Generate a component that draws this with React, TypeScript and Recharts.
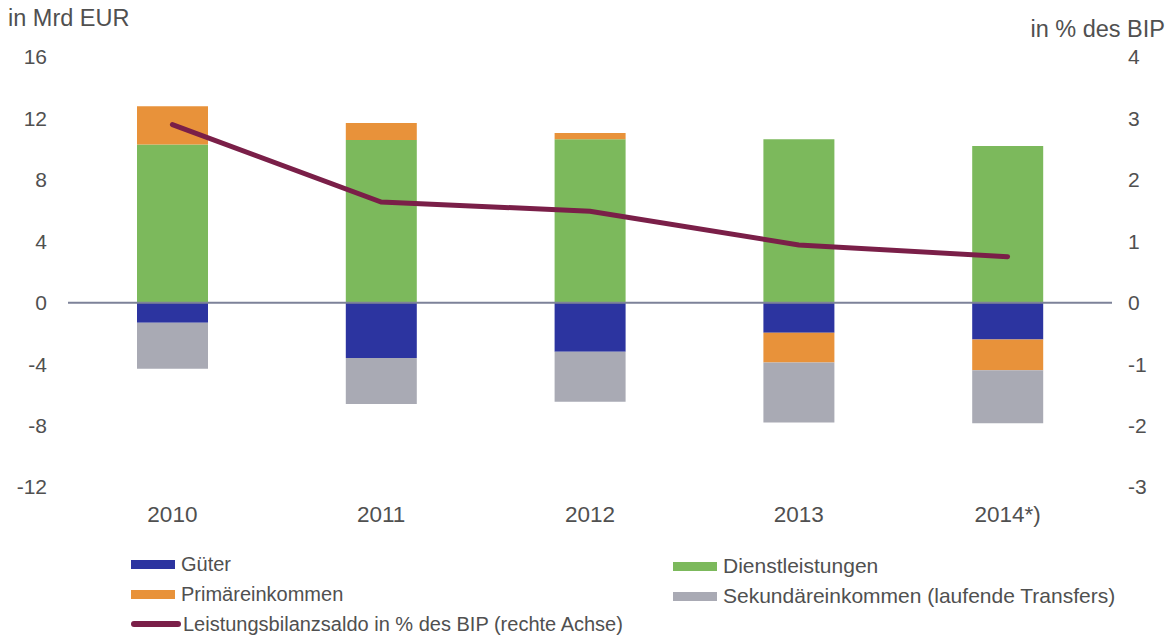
import {
  Bar,
  ComposedChart,
  Line,
  ReferenceLine,
  XAxis,
  YAxis,
} from "recharts";

const YEARS = ["2010", "2011", "2012", "2013", "2014*)"];
const GUETER = [-1.3, -3.6, -3.2, -1.95, -2.4];
const DIENSTLEISTUNGEN = [10.3, 10.6, 10.65, 10.65, 10.2];
const PRIMAER = [2.5, 1.1, 0.4, -1.95, -2.0];
const SEKUNDAER = [-3.0, -3.0, -3.25, -3.9, -3.45];
const SALDO = [2.9, 1.64, 1.49, 0.94, 0.75];

const LEFT_TICKS = [-12, -8, -4, 0, 4, 8, 12, 16];
const RIGHT_TICKS = [-3, -2, -1, 0, 1, 2, 3, 4];

const COLORS = {
  gueter: "#2c34a0",
  dienst: "#7cb95c",
  primaer: "#e8923a",
  sekundaer: "#a9aab4",
  saldo: "#7a1f48",
};

const data = YEARS.map((year, i) => ({
  year,
  gueter: GUETER[i],
  dienst: DIENSTLEISTUNGEN[i],
  primaer: PRIMAER[i],
  sekundaer: SEKUNDAER[i],
  saldo: SALDO[i],
}));

const FONT = "'Liberation Sans', Arial, sans-serif";
const TEXT = "#505050";
const tick = { fontSize: 21, fill: TEXT, fontFamily: FONT };
const xTick = { fontSize: 22.5, fill: TEXT, fontFamily: FONT };

function LegendItem({
  color,
  label,
  line,
}: {
  color: string;
  label: string;
  line?: boolean;
}) {
  return (
    <div style={{ display: "flex", alignItems: "center", height: 30 }}>
      <span
        style={{
          display: "inline-block",
          width: line ? 50 : 44,
          height: line ? 6 : 9,
          borderRadius: line ? 3 : 0,
          background: color,
          marginRight: line ? 2 : 6,
        }}
      />
      <span>{label}</span>
    </div>
  );
}

export default function App() {
  return (
    <div
      style={{
        position: "absolute",
        left: 0,
        top: 0,
        width: 1172,
        height: 637,
        background: "#fff",
        fontFamily: FONT,
        color: TEXT,
        overflow: "hidden",
      }}
    >
      <div style={{ position: "absolute", left: 8, top: 5, fontSize: 23.5 }}>
        in Mrd EUR
      </div>
      <div style={{ position: "absolute", right: 7, top: 16, fontSize: 23.5 }}>
        in % des BIP
      </div>
      <ComposedChart
        width={1172}
        height={537}
        data={data}
        stackOffset="sign"
        margin={{ top: 57, right: 0, bottom: 0, left: 0 }}
      >
        <XAxis
          dataKey="year"
          axisLine={false}
          tickLine={false}
          tick={xTick}
          tickMargin={13}
          height={50}
        />
        <YAxis
          yAxisId="left"
          domain={[-12, 16]}
          ticks={LEFT_TICKS}
          axisLine={false}
          tickLine={false}
          tick={tick}
          tickMargin={15}
          width={68}
        />
        <YAxis
          yAxisId="right"
          orientation="right"
          domain={[-3, 4]}
          ticks={RIGHT_TICKS}
          axisLine={false}
          tickLine={false}
          tick={tick}
          tickMargin={10}
          width={60}
        />
        <Bar yAxisId="left" dataKey="gueter" stackId="a" fill={COLORS.gueter} barSize={71} isAnimationActive={false} />
        <Bar yAxisId="left" dataKey="dienst" stackId="a" fill={COLORS.dienst} barSize={71} isAnimationActive={false} />
        <Bar yAxisId="left" dataKey="primaer" stackId="a" fill={COLORS.primaer} barSize={71} isAnimationActive={false} />
        <Bar yAxisId="left" dataKey="sekundaer" stackId="a" fill={COLORS.sekundaer} barSize={71} isAnimationActive={false} />
        <ReferenceLine yAxisId="left" y={0} stroke="#7d8299" strokeWidth={2} />
        <Line
          yAxisId="right"
          dataKey="saldo"
          type="linear"
          stroke={COLORS.saldo}
          strokeWidth={5}
          strokeLinecap="round"
          dot={false}
          isAnimationActive={false}
        />
      </ComposedChart>
      <div style={{ position: "absolute", left: 131, top: 549, fontSize: 20 }}>
        <LegendItem color={COLORS.gueter} label="Güter" />
        <LegendItem color={COLORS.primaer} label="Primäreinkommen" />
        <LegendItem color={COLORS.saldo} label="Leistungsbilanzsaldo in % des BIP (rechte Achse)" line />
      </div>
      <div style={{ position: "absolute", left: 673, top: 551, fontSize: 21 }}>
        <LegendItem color={COLORS.dienst} label="Dienstleistungen" />
        <LegendItem color={COLORS.sekundaer} label="Sekundäreinkommen (laufende Transfers)" />
      </div>
    </div>
  );
}
